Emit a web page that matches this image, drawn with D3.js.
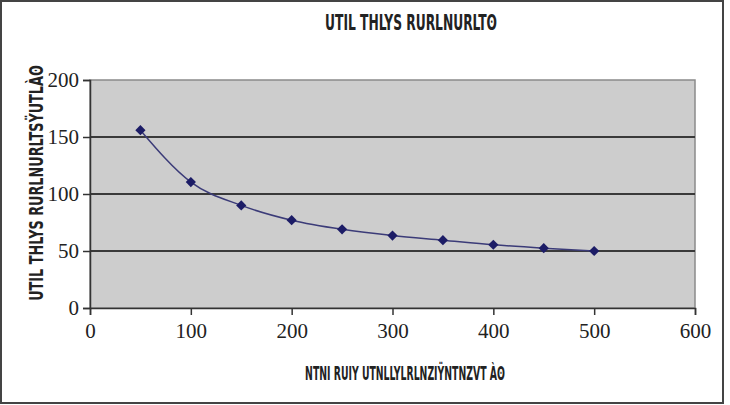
<!DOCTYPE html>
<html>
<head>
<meta charset="utf-8">
<script src="https://cdn.jsdelivr.net/npm/d3@7"></script>
<style>
body{margin:0;background:#fff;}
</style>
</head>
<body>
<div id="chart"></div>
<script>
var w=730;
var h=405;
// data
var xValues=[50,100,150,200,250,300,350,400,450,500];
var yValues=[156,110.5,90,77,69,63.5,59.5,55.5,52.5,50];
var xTicks=[0,100,200,300,400,500,600];
var yTicks=[0,50,100,150,200];
var title="UTIL THLYS RURLNURLTʘ";
var xTitle="NTNI RUIY UTNLLYLRLNZIŸNTNZVT Àʘ";
var yTitle="UTIL THLYS RURLNURLTSŸUTLÀʘ";

var svg=d3.select("#chart")
  .append("svg")
  .attr("width",w)
  .attr("height",h);

// outer frame
svg.append("rect")
  .attr("x",1).attr("y",1)
  .attr("width",722).attr("height",402)
  .attr("fill","#fff")
  .attr("stroke","#444")
  .attr("stroke-width",2);

var pLeft=90,pRight=695,pTop=80,pBottom=308;
var x=d3.scaleLinear().domain([0,600]).range([pLeft,pRight]);
var y=d3.scaleLinear().domain([0,200]).range([pBottom,pTop]);

svg.append("rect")
  .attr("x",pLeft).attr("y",pTop)
  .attr("width",pRight-pLeft).attr("height",pBottom-pTop)
  .attr("fill","#cdcdcd")
  .attr("stroke","#8a8a8a")
  .attr("stroke-width",1.5);

// grid lines
svg.selectAll("line.grid")
  .data(yTicks.slice(1,4))
  .enter()
  .append("line")
  .attr("class","grid")
  .attr("x1",pLeft).attr("x2",pRight)
  .attr("y1",function(d){return y(d);})
  .attr("y2",function(d){return y(d);})
  .style("stroke","#3a3a3a")
  .style("stroke-width",2);

var xAxis=svg.append("g")
  .attr("transform","translate(0,"+pBottom+")")
  .call(d3.axisBottom(x).tickValues(xTicks).tickSize(7).tickPadding(8).tickFormat(d3.format("d")));
var yAxis=svg.append("g")
  .attr("transform","translate("+pLeft+",0)")
  .call(d3.axisLeft(y).tickValues(yTicks).tickSize(7).tickPadding(4).tickFormat(d3.format("d")));

[xAxis,yAxis].forEach(function(a){
  a.select(".domain").attr("stroke","#333").attr("stroke-width",1.5);
  a.selectAll(".tick line").attr("stroke","#333").attr("stroke-width",1.5);
  a.selectAll(".tick text")
   .attr("fill","#222")
   .style("font-family","Liberation Serif")
   .style("font-size","21px");
});

var line=d3.line()
  .x(function(d,i){return x(xValues[i]);})
  .y(function(d){return y(d);})
  .curve(d3.curveMonotoneX);

svg.append("path")
  .datum(yValues)
  .attr("d",line)
  .attr("fill","none")
  .attr("stroke","#3b3b78")
  .attr("stroke-width",1.5);

svg.selectAll("path.pt")
  .data(yValues)
  .enter()
  .append("path")
  .attr("class","pt")
  .attr("d",d3.symbol().type(d3.symbolSquare).size(52))
  .attr("transform",function(d,i){return "translate("+x(xValues[i])+","+y(d)+") rotate(45)";})
  .attr("fill","#1c1c66");

// titles: squeezed horizontally to the width they take in the picture
function squeezed(str,cx,cy,rot,len,size){
  var t=svg.append("text")
    .attr("text-anchor","middle")
    .style("font-family","DejaVu Sans Condensed")
    .style("font-weight","bold")
    .style("font-size",size+"px")
    .attr("fill","#222")
    .text(str);
  var k=len/t.node().getComputedTextLength();
  t.attr("transform","translate("+cx+","+cy+") rotate("+rot+") scale("+k+",1)");
  return t;
}
squeezed(title,411,30,0,172,21);
squeezed(xTitle,405,380,0,200,20);
squeezed(yTitle,43,183,-90,236,20);
</script>
</body>
</html>
